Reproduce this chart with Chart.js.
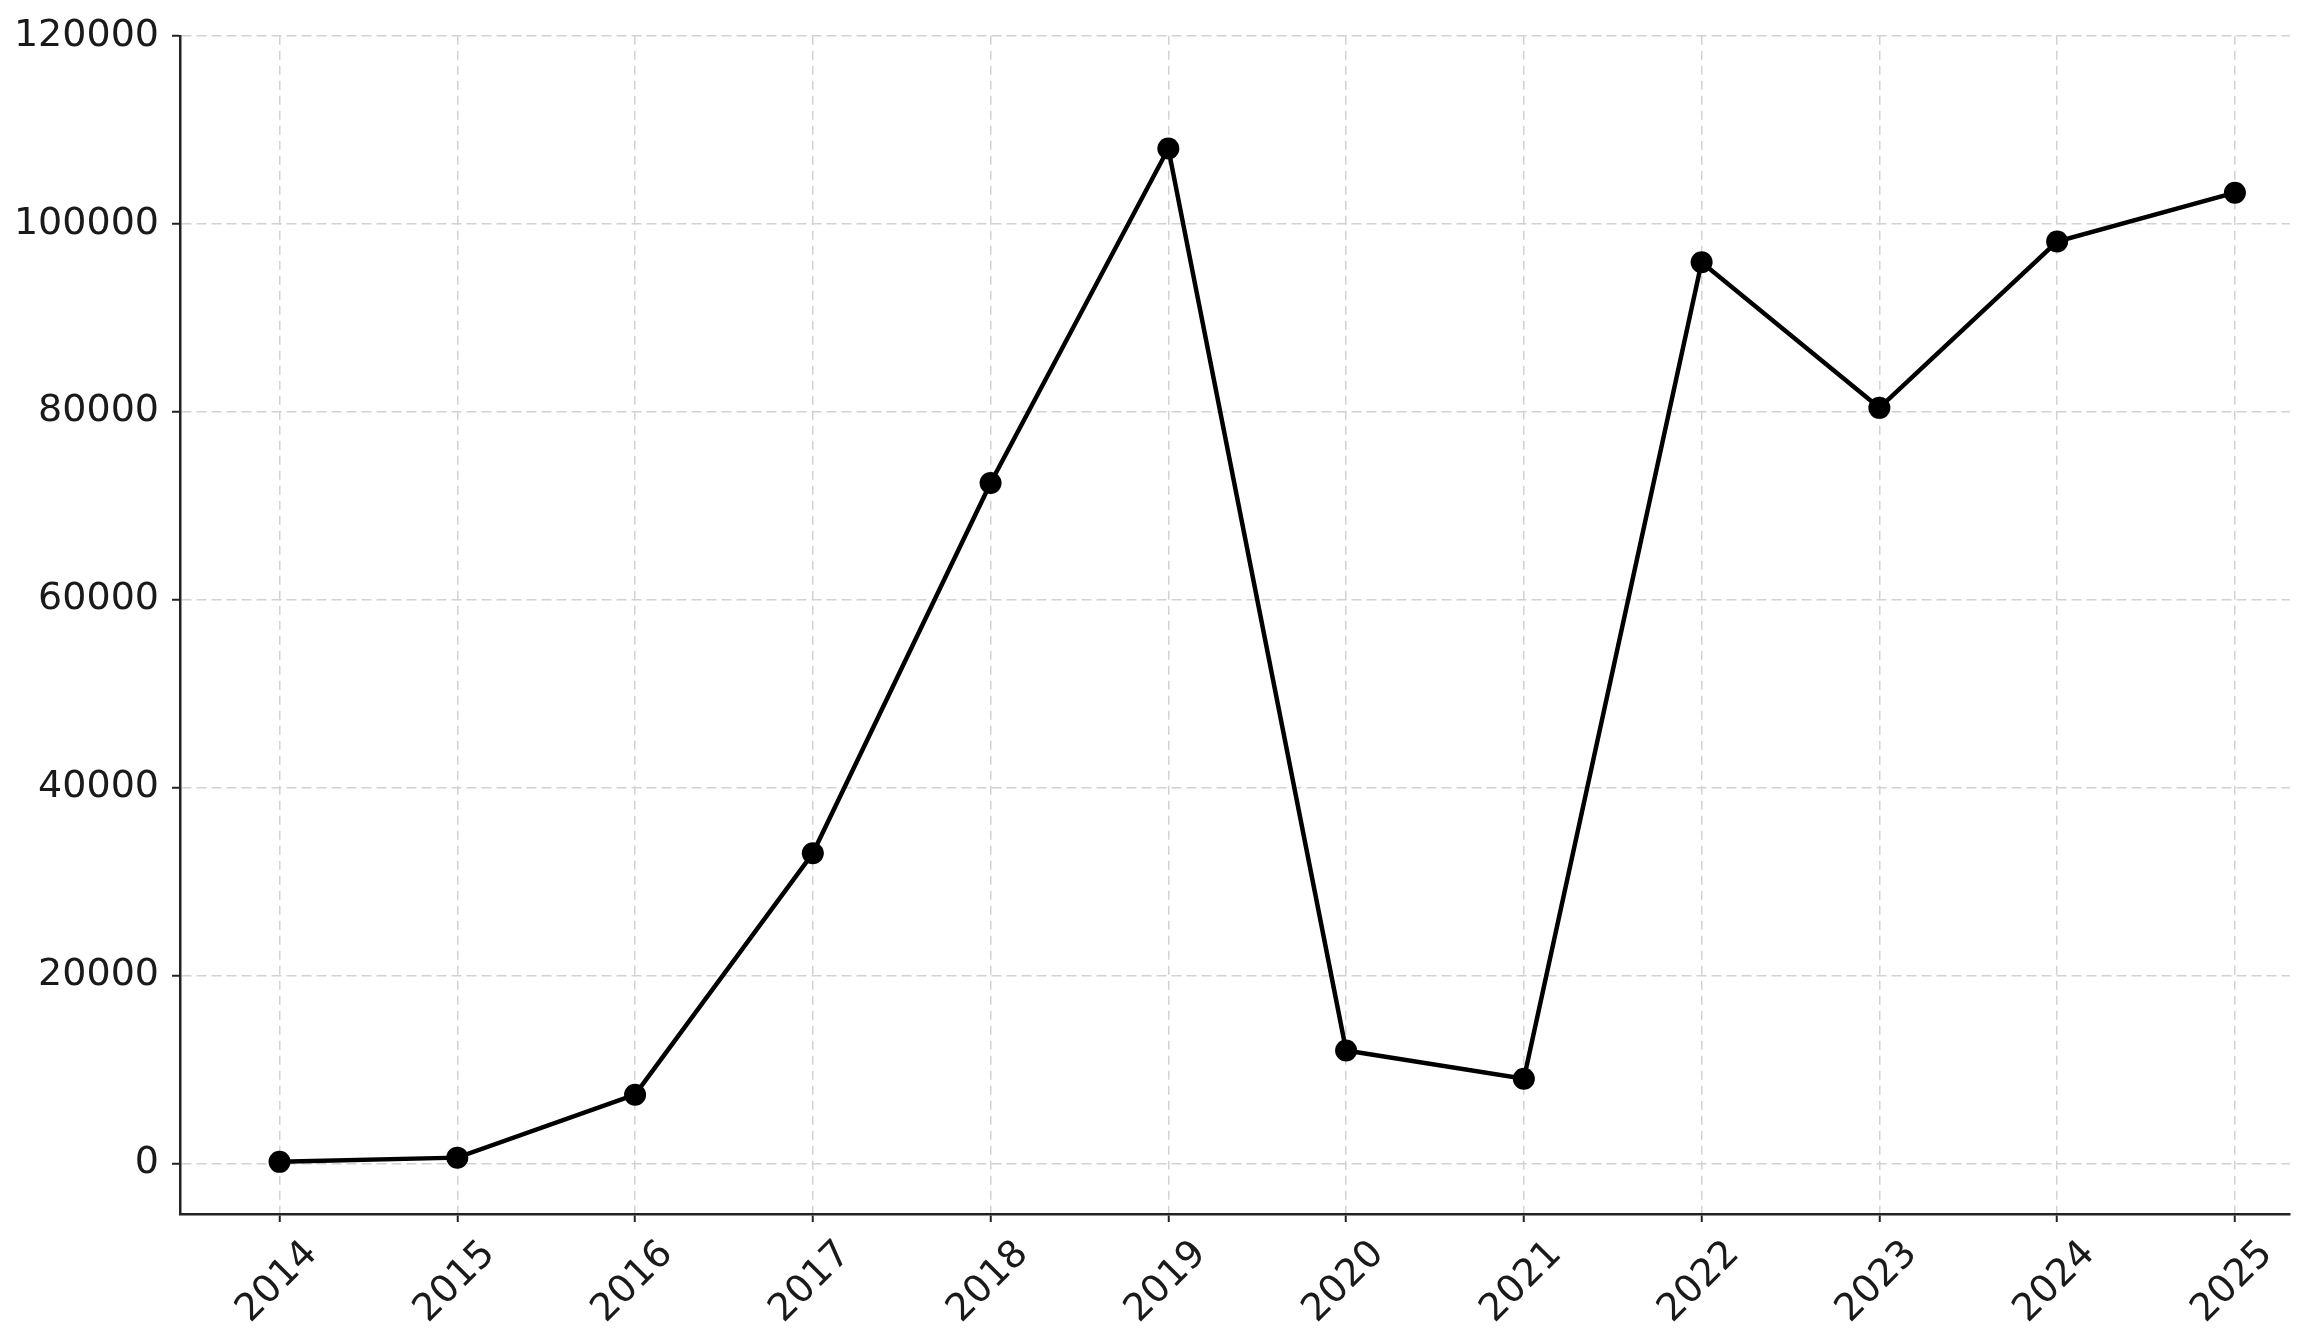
<!DOCTYPE html>
<html>
<head>
<meta charset="utf-8">
<script src="https://cdn.jsdelivr.net/npm/chart.js@4"></script>
<style>
    html, body { margin: 0; padding: 0; background: #ffffff; }
    #chart { display: block; }
</style>
</head>
<body>
<canvas id="chart" width="2316" height="1340"></canvas>
<script>

    // Данные графика //

    let years = [2014, 2015, 2016, 2017, 2018, 2019, 2020, 2021, 2022, 2023, 2024, 2025];
    let values = [150, 600, 7300, 33000, 72400, 108000, 12000, 9000, 95900, 80400, 98100, 103300];
    let yTicks = [0, 20000, 40000, 60000, 80000, 100000, 120000];

    let points = [];
    for(let i = 0; i < years.length; i++){
        points.push({x: years[i], y: values[i]});
    }

    let ctx = document.getElementById('chart');
    let font = {family: '"DejaVu Sans", sans-serif', size: 38};

    new Chart(ctx, {
        type: 'line',
        data: {
            datasets: [{
                data: points,
                borderColor: '#000000',
                backgroundColor: '#000000',
                borderWidth: 4.5,
                pointRadius: 11,
                pointBackgroundColor: '#000000',
                pointBorderWidth: 0,
                tension: 0,
                fill: false
            }]
        },
        options: {
            responsive: false,
            devicePixelRatio: 1,
            animation: false,
            layout: {
                padding: {top: 35, right: 26, bottom: 0, left: 0}
            },
            plugins: {
                legend: {display: false},
                tooltip: {enabled: false}
            },
            scales: {
                x: {
                    type: 'linear',
                    min: 2013.44,
                    max: 2025.31,
                    offset: false,
                    afterBuildTicks: (scale) => {
                        scale.ticks = years.map(v => ({value: v}));
                    },
                    afterFit: (scale) => {
                        scale.height = 126;
                    },
                    ticks: {
                        font: font,
                        color: '#1a1a1a',
                        minRotation: 45,
                        maxRotation: 45,
                        padding: 10,
                        labelOffset: 32,
                        autoSkip: false,
                        callback: (v) => String(v)
                    },
                    grid: {
                        color: '#d2d2d2',
                        lineWidth: 1.5,
                        tickColor: '#222222',
                        tickLength: 8,
                        tickWidth: 2,
                        tickBorderDash: []
                    },
                    border: {
                        color: '#222222',
                        width: 2.5,
                        dash: [9, 6]
                    }
                },
                y: {
                    type: 'linear',
                    min: -5400,
                    max: 120000,
                    afterBuildTicks: (scale) => {
                        scale.ticks = yTicks.map(v => ({value: v}));
                    },
                    afterFit: (scale) => {
                        scale.width = 180;
                    },
                    ticks: {
                        font: font,
                        color: '#1a1a1a',
                        padding: 13,
                        callback: (v) => String(v)
                    },
                    grid: {
                        color: '#d2d2d2',
                        lineWidth: 1.5,
                        tickColor: '#222222',
                        tickLength: 8,
                        tickWidth: 2,
                        tickBorderDash: []
                    },
                    border: {
                        color: '#222222',
                        width: 2.5,
                        dash: [10, 5]
                    }
                }
            }
        }
    });

</script>
</body>
</html>
